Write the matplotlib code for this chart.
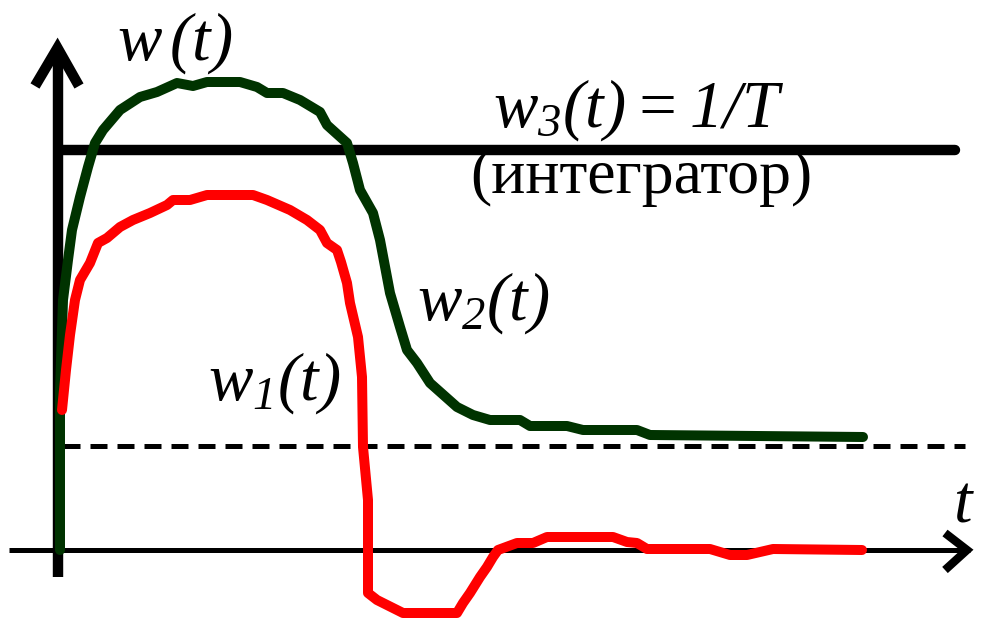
import numpy as np
import matplotlib
matplotlib.use('Agg')
import matplotlib.pyplot as plt

plt.rcParams['font.family'] = ['Liberation Serif', 'DejaVu Serif']
plt.rcParams['mathtext.fontset'] = 'custom'
# italic everywhere in the formulas (digits and brackets too)
plt.rcParams['mathtext.rm'] = 'Liberation Serif:italic'
plt.rcParams['mathtext.it'] = 'Liberation Serif:italic'

# w2(t) - green curve
t2 = [0.0, 0.0, 0.03, 0.08, 0.12, 0.20, 0.28, 0.35, 0.43, 0.60, 0.80, 0.97, 1.17, 1.33, 1.47,
      1.80, 1.97, 2.07, 2.23, 2.40, 2.60, 2.67, 2.87, 2.93, 3.00, 3.13, 3.20, 3.30, 3.40, 3.47,
      3.57, 3.70, 3.97, 4.13, 4.30, 4.60, 4.70, 5.07, 5.23, 5.77, 5.90, 8.03]
w2 = [0.0, 0.40, 0.625, 0.725, 0.80, 0.8825, 0.9575, 1.0175, 1.05, 1.10, 1.1325, 1.145, 1.1675,
      1.16, 1.17, 1.17, 1.1575, 1.1425, 1.1425, 1.125, 1.095, 1.0625, 1.0175, 0.9675, 0.90,
      0.8425, 0.775, 0.6425, 0.5575, 0.50, 0.4675, 0.4175, 0.3575, 0.3375, 0.325, 0.325, 0.31,
      0.31, 0.30, 0.30, 0.2875, 0.2825]

# w1(t) - red curve
t1 = [0.02, 0.06, 0.10, 0.15, 0.20, 0.30, 0.38, 0.47, 0.60, 0.73, 0.90, 1.07, 1.13, 1.30, 1.47,
      1.93, 2.07, 2.30, 2.47, 2.60, 2.67, 2.77, 2.81, 2.87, 2.90, 2.98, 3.02, 3.03, 3.08, 3.08,
      3.17, 3.27, 3.43, 3.97, 4.03, 4.10, 4.20, 4.27, 4.33, 4.38, 4.57, 4.73, 4.87, 5.53, 5.67,
      5.77, 5.87, 6.50, 6.70, 6.87, 7.13, 8.02]
w1 = [0.35, 0.45, 0.5375, 0.625, 0.675, 0.7175, 0.7675, 0.78, 0.8075, 0.825, 0.8425, 0.8625,
      0.875, 0.875, 0.8875, 0.8875, 0.875, 0.85, 0.825, 0.80, 0.7675, 0.75, 0.72, 0.6675, 0.6175,
      0.5325, 0.4325, 0.2575, 0.125, -0.1075, -0.125, -0.1375, -0.1575, -0.1575, -0.1325, -0.1075,
      -0.0675, -0.0425, -0.0175, 0.0, 0.0175, 0.0175, 0.0325, 0.0325, 0.02, 0.0175, 0.0025,
      0.0025, -0.0125, -0.0125, 0.0025, 0.0]

# w3(t) = 1/T level and the dashed level
w3_level = 1.0
t3 = [0.03, 8.95]
dash_level = 0.26
t_dash = [0.03, 9.05]

fig = plt.figure(figsize=(9.84, 6.2), dpi=100)
ax = fig.add_axes([0, 0, 1, 1])
ax.set_xlim(-0.6, 9.24)
ax.set_ylim(-0.175, 1.375)
ax.axis('off')

# axes with arrows
ax.plot([-0.51, 9.1], [0, 0], color='black', lw=3.6, solid_capstyle='butt')
ax.plot([8.85, 9.07, 8.85], [0.0425, 0.0, -0.05], color='black', lw=6,
        solid_joinstyle='miter', solid_capstyle='butt')
ax.plot([-0.025, -0.025], [-0.0675, 1.24], color='black', lw=7.5, solid_capstyle='butt')
ax.plot([-0.25, -0.025, 0.19], [1.16, 1.255, 1.16], color='black', lw=7.5,
        solid_joinstyle='miter', solid_capstyle='butt')

ax.plot(t_dash, [dash_level, dash_level], color='black', lw=3.6, dashes=(3.4, 2.0))
ax.plot(t3, [w3_level, w3_level], color='black', lw=7.5, solid_capstyle='round')

ax.plot(t2, w2, color='#003300', lw=7.2, solid_capstyle='round', solid_joinstyle='round')
ax.plot(t1, w1, color='#ff0000', lw=7.2, solid_capstyle='round', solid_joinstyle='round')

fs = 48
ax.text(0.57, 1.225, r'$w\,(t)$', fontsize=fs, va='baseline', ha='left')
ax.text(4.33, 1.0575, r'$w_{3}(t)=1/T$', fontsize=fs, va='baseline', ha='left')
ax.text(4.10, 0.8925, '(интегратор)', fontsize=46, va='baseline', ha='left')
ax.text(3.57, 0.575, r'$w_{2}(t)$', fontsize=fs, va='baseline', ha='left')
ax.text(1.48, 0.375, r'$w_{1}(t)$', fontsize=fs, va='baseline', ha='left')
ax.text(8.93, 0.07, r'$t$', fontsize=fs, va='baseline', ha='left')

fig.savefig('out.png', dpi=100)
